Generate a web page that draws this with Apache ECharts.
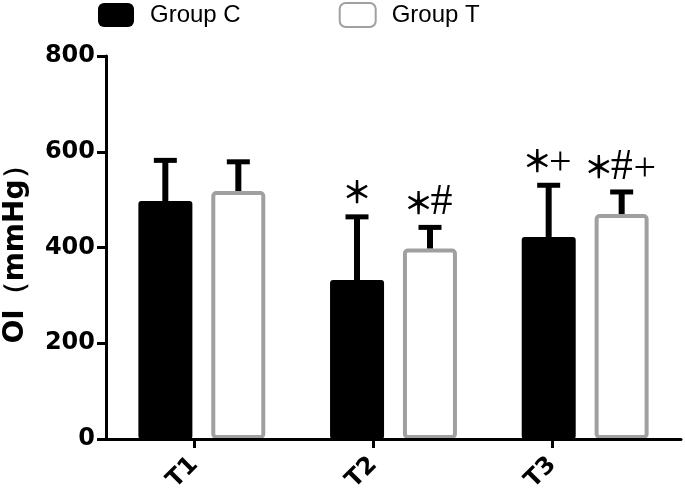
<!DOCTYPE html>
<html><head><meta charset="utf-8">
<script src="https://cdn.jsdelivr.net/npm/echarts@6/dist/echarts.min.js"></script>
<style>html,body{margin:0;padding:0;background:#fff}#c{width:685px;height:493px}</style>
</head><body><div id="c"></div>
<script>
const categories = ['T1', 'T2', 'T3'];
const groupC = [497, 332, 422];
const groupCsd = [85, 132, 108];
const groupT = [518, 398, 470];
const groupTsd = [61, 44, 46];
const marksC = ['', '*', '*+'];
const marksT = ['', '*#', '*#+'];
const yTickMin = 0, yTickMax = 800, yTickStep = 200;

const GREY = '#a0a0a0';
const AXIS_FONT = 'DejaVu Sans';
const MARK_ADVANCE = 23;

function markGlyph(ch) {
  if (ch === '*') return { text: '\uFF0A', font: 'bold 30px "Noto Sans CJK SC"', dy: 0 };
  if (ch === '#') return { text: '#', font: '44px "Liberation Serif"', dy: 0 };
  return { text: '+', font: '40px "Liberation Serif"', dy: 3 };
}

function errorSeries(values, sds, marks, offset) {
  return {
    type: 'custom',
    xAxisIndex: 0, yAxisIndex: 0,
    z: 5, silent: true,
    data: values.map(function (v, i) { return [i, v, sds[i]]; }),
    renderItem: function (params, api) {
      const idx = api.value(0), v = api.value(1), sd = api.value(2);
      const p0 = api.coord([idx, v]);
      const p1 = api.coord([idx, v + sd]);
      const x = p0[0] + offset;
      const children = [
        { type: 'rect', shape: { x: x - 3, y: p1[1], width: 6, height: p0[1] - p1[1] }, style: { fill: '#000' } },
        { type: 'rect', shape: { x: x - 11.5, y: p1[1] - 2.5, width: 23, height: 5 }, style: { fill: '#000' } }
      ];
      const chars = marks[params.dataIndex].split('');
      const n = chars.length;
      chars.forEach(function (ch, i) {
        const g = markGlyph(ch);
        children.push({
          type: 'text',
          style: {
            text: g.text, font: g.font,
            x: x + (i - (n - 1) / 2) * MARK_ADVANCE, y: p1[1] - 25 + g.dy,
            align: 'center', verticalAlign: 'middle', fill: '#000'
          }
        });
      });
      return { type: 'group', children: children };
    }
  };
}

const chart = echarts.init(document.getElementById('c'), null, { renderer: 'canvas' });
chart.setOption({
  animation: false,
  backgroundColor: '#fff',
  legend: {
    data: ['Group C', 'Group T'],
    left: 98, top: 2, padding: 0,
    itemWidth: 36, itemHeight: 24, itemGap: 98,
    icon: 'roundRect',
    textStyle: { fontFamily: 'Liberation Sans', fontSize: 24, color: '#000', padding: [0, 0, 0, 11] }
  },
  grid: [
    { left: 106, right: 4, top: 56, bottom: 54, outerBoundsMode: 'none', containLabel: false },
    { left: 105, right: 43, top: 56, bottom: 54, outerBoundsMode: 'none', containLabel: false }
  ],
  xAxis: [
    {
      type: 'category', gridIndex: 0, data: categories, z: 10,
      axisLine: { lineStyle: { color: '#000', width: 3 } },
      axisTick: { show: false }, axisLabel: { show: false }, splitLine: { show: false }
    },
    {
      type: 'category', gridIndex: 1, data: categories,
      axisLine: { show: false },
      axisTick: { show: true, alignWithLabel: true, length: 9, lineStyle: { color: '#000', width: 3 } },
      axisLabel: { rotate: 45, margin: 22, fontFamily: AXIS_FONT, fontWeight: 'bold', fontSize: 24, color: '#000' },
      splitLine: { show: false }
    }
  ],
  yAxis: [
    {
      type: 'value', gridIndex: 0, min: yTickMin, max: yTickMax, interval: yTickStep, z: 10,
      name: 'OI\uFF08mmHg\uFF09', nameLocation: 'middle', nameGap: 76,
      nameTextStyle: { fontFamily: AXIS_FONT, fontWeight: 'bold', fontSize: 28, color: '#000' },
      axisLine: { show: true, lineStyle: { color: '#000', width: 3 } },
      axisTick: { show: true, length: 9, lineStyle: { color: '#000', width: 3 } },
      axisLabel: { margin: 11, fontFamily: AXIS_FONT, fontWeight: 'bold', fontSize: 24, color: '#000' },
      splitLine: { show: false }
    },
    { type: 'value', gridIndex: 1, min: yTickMin, max: yTickMax, show: false }
  ],
  series: [
    {
      name: 'Group C', type: 'bar', xAxisIndex: 0, yAxisIndex: 0,
      data: groupC, barWidth: 54, barGap: '35%',
      itemStyle: { color: '#000', borderRadius: 3 }
    },
    {
      name: 'Group T', type: 'bar', xAxisIndex: 0, yAxisIndex: 0,
      data: groupT, barWidth: 54,
      itemStyle: { color: '#fff', borderColor: GREY, borderWidth: 4, borderRadius: 3 }
    },
    errorSeries(groupC, groupCsd, marksC, -36.5),
    errorSeries(groupT, groupTsd, marksT, 36.5)
  ]
});
</script></body></html>
